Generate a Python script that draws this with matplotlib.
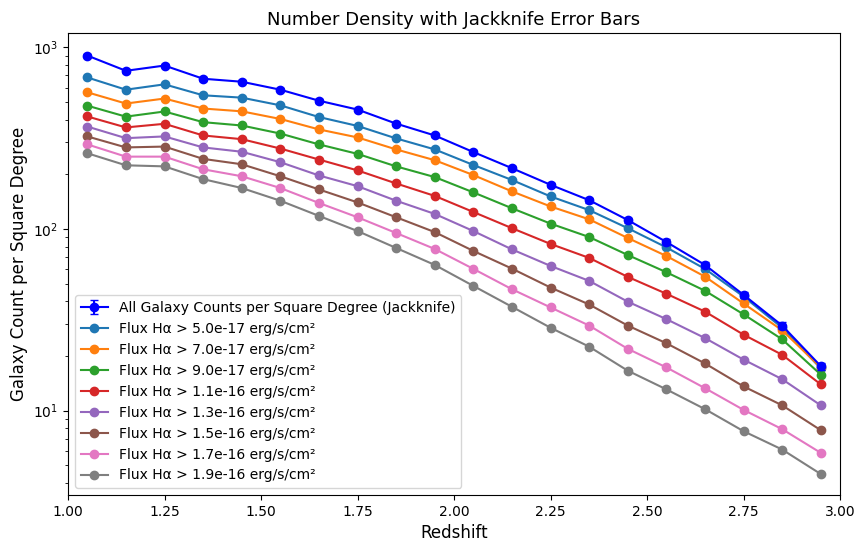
import matplotlib
matplotlib.use("Agg")
import matplotlib.pyplot as plt

redshift = [1.05, 1.15, 1.25, 1.35, 1.45, 1.55, 1.65, 1.75, 1.85, 1.95,
            2.05, 2.15, 2.25, 2.35, 2.45, 2.55, 2.65, 2.75, 2.85, 2.95]

all_counts = [900, 742, 793, 671, 646, 584, 508, 454, 380, 327,
              265, 216, 175, 144, 112, 84.8, 63.4, 43.4, 29.4, 17.6]
all_err = [18, 16, 17, 15, 14, 13, 12, 11, 9, 8,
           7, 6, 5, 4.5, 3.5, 2.8, 2.2, 1.6, 1.2, 0.8]

flux_labels = ["5.0e-17", "7.0e-17", "9.0e-17", "1.1e-16",
               "1.3e-16", "1.5e-16", "1.7e-16", "1.9e-16"]

flux_50e17 = [682, 584, 625, 544, 528, 479, 413, 369, 315, 274,
              225, 186, 151, 127, 101, 79.2, 60.3, 42.5, 28.6, 17.1]
flux_70e17 = [565, 490, 522, 460, 444, 403, 353, 319, 274, 239,
              198, 161, 133, 113, 89.2, 71.0, 54.7, 38.9, 27.7, 17.3]
flux_90e17 = [477, 415, 443, 387, 371, 335, 292, 259, 221, 193,
              159, 130, 107, 90.3, 71.9, 57.8, 45.7, 33.9, 24.7, 15.8]
flux_11e16 = [416, 362, 379, 327, 312, 277, 241, 210, 178, 152,
              124, 101, 82.7, 69.3, 54.5, 44.0, 35.1, 26.2, 20.3, 13.96]
flux_13e16 = [366, 316, 323, 281, 266, 233, 197, 172, 143, 121,
              97.4, 77.2, 62.6, 51.8, 39.8, 31.9, 25.1, 19.1, 14.9, 10.7]
flux_15e16 = [323, 281, 284, 243, 227, 195, 165, 140, 116, 96.1,
              75.7, 60.5, 47.6, 38.4, 29.4, 23.5, 18.2, 13.6, 10.7, 7.81]
flux_17e16 = [292, 250, 250, 213, 195, 168, 139, 116, 95, 77.6,
              60.3, 46.6, 37.0, 29.4, 21.9, 17.3, 13.3, 10.1, 7.91, 5.86]
flux_19e16 = [261, 224, 221, 188, 168, 143, 118, 97.4, 78.6, 63.4,
              48.6, 37.3, 28.6, 22.5, 16.6, 13.1, 10.2, 7.71, 6.11, 4.48]

flux_series = [flux_50e17, flux_70e17, flux_90e17, flux_11e16,
               flux_13e16, flux_15e16, flux_17e16, flux_19e16]

fig = plt.figure(figsize=(8.67, 5.51), dpi=100)
ax = fig.add_axes([68/867, 1-495/551, (840-68)/867, (495-33)/551])

lines = []
for lab, vals in zip(flux_labels, flux_series):
    ln, = ax.plot(redshift, vals, marker='o', label=f"Flux H\u03b1 > {lab} erg/s/cm\u00b2")
    lines.append(ln)

eb = ax.errorbar(redshift, all_counts, yerr=all_err, fmt='-o', color='blue',
                 capsize=3, label="All Galaxy Counts per Square Degree (Jackknife)")

ax.set_yscale('log')
ax.set_xlim(1.0, 3.0)
ax.set_xlabel("Redshift", fontsize=12)
ax.set_ylabel("Galaxy Count per Square Degree", fontsize=12)
ax.set_title("Number Density with Jackknife Error Bars", fontsize=13)
ax.legend(handles=[eb] + lines, loc='lower left')

fig.savefig("out.png", dpi=100)
